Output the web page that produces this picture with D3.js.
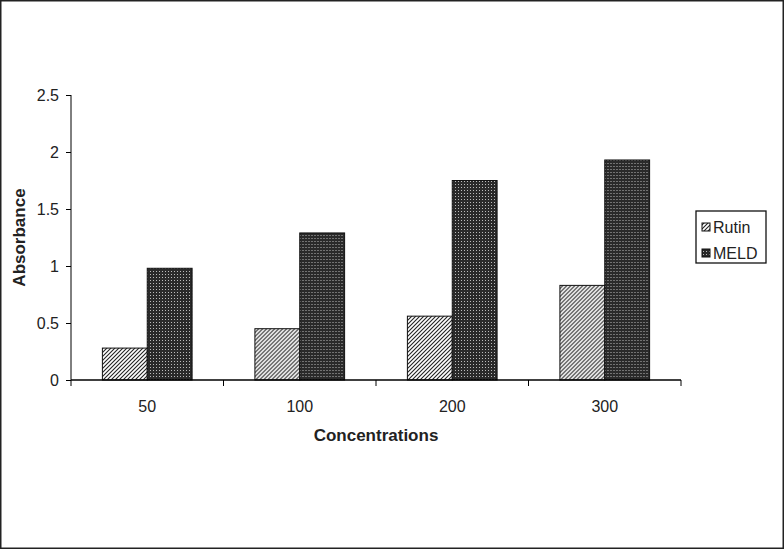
<!DOCTYPE html>
<html><head><meta charset="utf-8">
<script src="https://cdn.jsdelivr.net/npm/d3@7"></script>
<style>body{margin:0;background:#fff}svg{display:block}text{font-family:"Liberation Sans",Arial,sans-serif}</style>
</head><body><svg id="c" width="784" height="549"></svg>
<script>
const categories = ["50","100","200","300"];
const seriesNames = ["Rutin","MELD"];
const rutin = [0.28,0.45,0.56,0.83];
const meld = [0.98,1.29,1.75,1.93];
const yTicks = [0,0.5,1,1.5,2,2.5];

(function(){
const svg = d3.select("#c");
svg.append("rect").attr("x",0.75).attr("y",0.75).attr("width",782.5).attr("height",547.5).attr("fill","#fff").attr("stroke","#222").attr("stroke-width",1.5);

const defs = svg.append("defs");
const ph = defs.append("pattern").attr("id","hatch").attr("patternUnits","userSpaceOnUse").attr("width",4).attr("height",4);
ph.append("rect").attr("width",4).attr("height",4).attr("fill","#fff");
ph.append("path").attr("d","M-1,1 l2,-2 M0,4 l4,-4 M3,5 l2,-2").attr("stroke","#222").attr("stroke-width",1.1);
const pd = defs.append("pattern").attr("id","dots").attr("patternUnits","userSpaceOnUse").attr("width",3).attr("height",3);
pd.append("rect").attr("width",3).attr("height",3).attr("fill","#2a2a2a");
pd.append("rect").attr("x",1).attr("y",1).attr("width",1).attr("height",1).attr("fill","#bbb");

const pL=71, pR=681, pT=95, pB=380;
const x = d3.scaleBand().domain(categories).range([pL,pR]);
const xs = d3.scaleBand().domain(seriesNames).range([0,x.bandwidth()]).paddingOuter(0.7).paddingInner(0);
const y = d3.scaleLinear().domain([0,2.5]).range([pB,pT]);

const data = categories.map((c,i)=>({c, vals:[{s:"Rutin",v:rutin[i]},{s:"MELD",v:meld[i]}]}));
const g = svg.append("g");
g.selectAll("g.grp").data(data).join("g").attr("class","grp")
 .attr("transform",d=>`translate(${x(d.c)},0)`)
 .selectAll("rect").data(d=>d.vals).join("rect")
 .attr("x",d=>xs(d.s)).attr("width",xs.bandwidth())
 .attr("y",d=>y(d.v)).attr("height",d=>pB-y(d.v))
 .attr("fill",d=>d.s==="Rutin"?"url(#hatch)":"url(#dots)")
 .attr("stroke","#111").attr("stroke-width",1);

const ya = svg.append("g").attr("transform",`translate(${pL},0)`)
 .call(d3.axisLeft(y).tickValues(yTicks).tickFormat(d=>String(d)).tickSize(5).tickPadding(7));
ya.select(".domain").attr("stroke","#000").attr("d",`M0,${pT}V${pB}`);
ya.selectAll("text").attr("font-size",16).attr("fill","#222");

const xa = svg.append("g").attr("transform",`translate(0,${pB})`);
xa.append("line").attr("x1",pL).attr("x2",pR).attr("stroke","#000").attr("stroke-width",1.5);
xa.selectAll("line.t").data(categories).join("line").attr("class","t")
 .attr("x1",d=>x(d)+x.bandwidth()).attr("x2",d=>x(d)+x.bandwidth()).attr("y1",0).attr("y2",6).attr("stroke","#000");
xa.append("line").attr("x1",pL).attr("x2",pL).attr("y1",0).attr("y2",6).attr("stroke","#000");
xa.selectAll("text").data(categories).join("text")
 .attr("x",d=>x(d)+x.bandwidth()/2).attr("y",32).attr("text-anchor","middle")
 .attr("font-size",16).attr("fill","#222").text(d=>d);

svg.append("text").attr("x",(pL+pR)/2).attr("y",441).attr("text-anchor","middle")
 .attr("font-size",17).attr("font-weight","bold").attr("fill","#222").text("Concentrations");
svg.append("text").attr("transform",`translate(25,${(pT+pB)/2}) rotate(-90)`).attr("text-anchor","middle")
 .attr("font-size",17).attr("font-weight","bold").attr("fill","#222").text("Absorbance");

const lg = svg.append("g").attr("transform","translate(696,211)");
lg.append("rect").attr("width",70).attr("height",52).attr("fill","#fff").attr("stroke","#111").attr("stroke-width",1.3);
seriesNames.forEach((s,i)=>{
  lg.append("rect").attr("x",6).attr("y",12+i*26).attr("width",8).attr("height",8)
    .attr("fill",s==="Rutin"?"url(#hatch)":"url(#dots)").attr("stroke","#111");
  lg.append("text").attr("x",17).attr("y",22+i*26).attr("font-size",16).attr("fill","#222").text(s);
});
})();
</script></body></html>
